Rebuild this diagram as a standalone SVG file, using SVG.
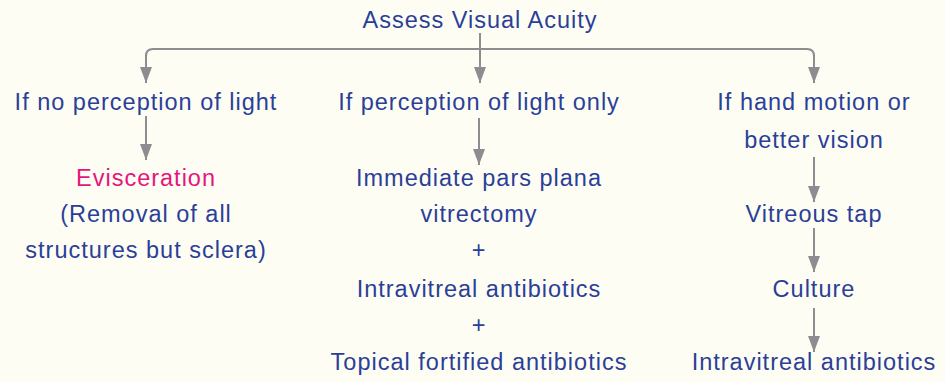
<svg xmlns="http://www.w3.org/2000/svg" width="945" height="382" viewBox="0 0 945 382">
<style>
text{font-family:"Liberation Sans",Arial,sans-serif;font-size:23.5px;letter-spacing:1px;fill:#2b3f98;text-anchor:middle}
.pink{fill:#e6157c}
.c{fill:none;stroke:#8d8d91;stroke-width:2}
</style>
<defs>
<marker id="a" viewBox="0 0 12 16" refX="6" refY="16" markerWidth="12" markerHeight="16" markerUnits="userSpaceOnUse" orient="0">
<path d="M0,0 L12,0 L6,16 Z" fill="#8d8d91"/>
</marker>
</defs>
<rect width="945" height="382" fill="#fdfdf4"/>
<g id="connectors">
<path class="c" d="M480,33 V83" marker-end="url(#a)"/>
<path class="c" d="M146,83 V56 Q146,49 153,49 H807 Q814,49 814,56 V83" marker-end="url(#a)" marker-start="url(#a)"/>
<path class="c" d="M146,116 V160" marker-end="url(#a)"/>
<path class="c" d="M479,118 V165" marker-end="url(#a)"/>
<path class="c" d="M814,157 V202" marker-end="url(#a)"/>
<path class="c" d="M814,228 V272" marker-end="url(#a)"/>
<path class="c" d="M814,308 V352" marker-end="url(#a)"/>
</g>
<g id="root"><text x="480" y="28">Assess Visual Acuity</text></g>
<g id="no-light"><text x="146" y="110">If no perception of light</text></g>
<g id="evisceration">
<text x="146" y="186" class="pink">Evisceration</text>
<text x="146" y="222">(Removal of all</text>
<text x="146" y="258">structures but sclera)</text>
</g>
<g id="light-only"><text x="479" y="110">If perception of light only</text></g>
<g id="treatment">
<text x="479" y="186">Immediate pars plana</text>
<text x="479" y="222">vitrectomy</text>
<text x="479" y="258">+</text>
<text x="479" y="297">Intravitreal antibiotics</text>
<text x="479" y="333">+</text>
<text x="479" y="370">Topical fortified antibiotics</text>
</g>
<g id="hand-motion">
<text x="814" y="110">If hand motion or</text>
<text x="814" y="148">better vision</text>
</g>
<g id="vitreous-tap"><text x="814" y="222">Vitreous tap</text></g>
<g id="culture"><text x="814" y="297">Culture</text></g>
<g id="intravitreal"><text x="814" y="370">Intravitreal antibiotics</text></g>
</svg>
